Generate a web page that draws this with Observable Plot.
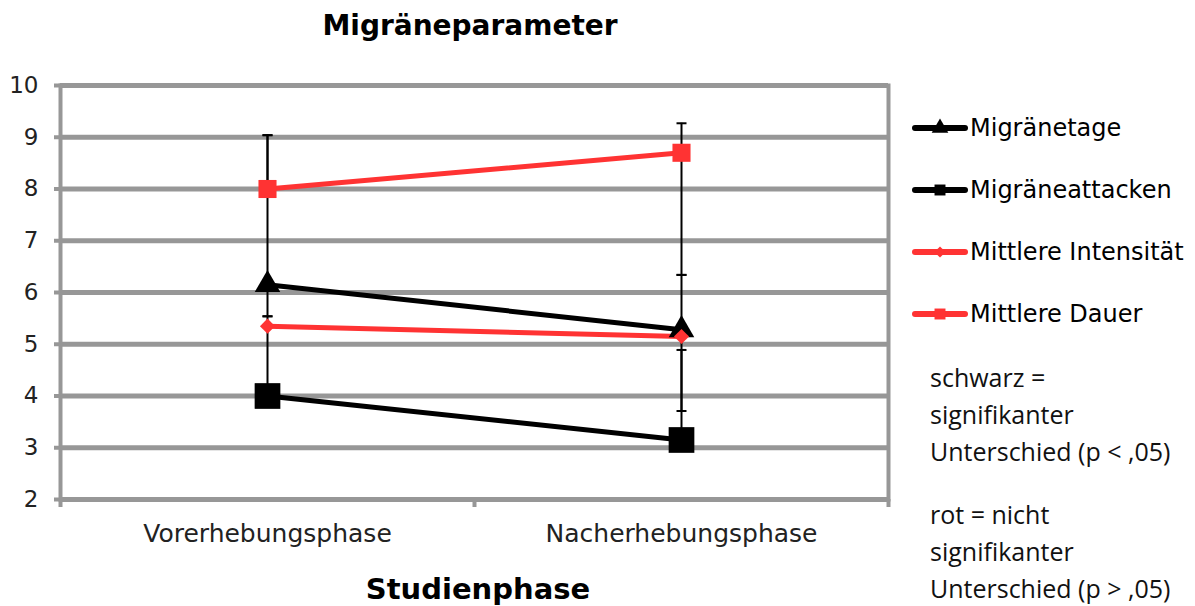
<!DOCTYPE html>
<html>
<head>
<meta charset="utf-8">
<script src="https://cdn.jsdelivr.net/npm/d3@7"></script>
<script src="https://cdn.jsdelivr.net/npm/@observablehq/plot@0.6"></script>
<style>
  html, body { margin: 0; padding: 0; background: #fff; }
  #wrap { position: relative; width: 1195px; height: 606px; overflow: hidden; font-family: "DejaVu Sans", sans-serif; color: #000; }
  #chart { position: absolute; left: 0; top: 0; }
  .title { position: absolute; top: 9px; left: 270px; width: 400px; text-align: center; font-weight: bold; font-size: 28px; }
  .xlabel { position: absolute; top: 572px; left: 278px; width: 400px; text-align: center; font-weight: bold; font-size: 29px; }
  .legend { position: absolute; left: 912px; top: 97px; }
  .legend .row { display: flex; align-items: center; height: 62px; font-size: 24px; }
  .legend svg { display: block; margin-right: 2px; }
  .notes { position: absolute; left: 930px; top: 359px; font-family: "Open Sans", sans-serif; font-size: 25px; line-height: 37px; color: #111; }
  .notes p { margin: 0 0 26px 0; }
</style>
</head>
<body>
<div id="wrap">
  <div id="chart"></div>
  <div class="title">Migräneparameter</div>
  <div class="xlabel">Studienphase</div>
  <div class="legend" id="legend"></div>
  <div class="notes">
    <p>schwarz =<br>signifikanter<br>Unterschied (p &lt; ,05)</p>
    <p>rot = nicht<br>signifikanter<br>Unterschied (p &gt; ,05)</p>
  </div>
</div>
<script>
// ---- data ----
const phases = ["Vorerhebungsphase", "Nacherhebungsphase"];
const seriesNames = ["Migränetage", "Migräneattacken", "Mittlere Intensität", "Mittlere Dauer"];
const migraenetage = [6.15, 5.28];
const migraeneattacken = [4.0, 3.15];
const mittlereIntensitaet = [5.35, 5.15];
const mittlereDauer = [8.0, 8.7];
// error bar extents (upward / downward)
const errUpMigraenetage = [2.89, 1.06];
const errDownMigraenetage = [0.61, 1.57];
const errUpMigraeneattacken = [1.54, 1.74];
const errDownMigraeneattacken = [0, 0];
const errUpIntensitaet = [0, 0];
const errDownIntensitaet = [0, 0];
const errUpDauer = [1.04, 0.57];
const errDownDauer = [0, 2.36];
const yTicks = [2, 3, 4, 5, 6, 7, 8, 9, 10];

// ---- styles per series ----
const styles = {
  "Migränetage": {color: "#000000", width: 5, symbol: "triangle", r: 9.5},
  "Migräneattacken": {color: "#000000", width: 5, symbol: "square", r: 14.5},
  "Mittlere Intensität": {color: "#ff3333", width: 5, symbol: "diamond2", r: 6.8},
  "Mittlere Dauer": {color: "#ff3333", width: 5, symbol: "square", r: 10.2}
};

const values = [migraenetage, migraeneattacken, mittlereIntensitaet, mittlereDauer];
const ups = [errUpMigraenetage, errUpMigraeneattacken, errUpIntensitaet, errUpDauer];
const downs = [errDownMigraenetage, errDownMigraeneattacken, errDownIntensitaet, errDownDauer];

const rows = [];
seriesNames.forEach((s, si) => {
  phases.forEach((p, pi) => {
    const v = values[si][pi];
    rows.push({series: s, phase: pi, value: v, hi: v + ups[si][pi], lo: v - downs[si][pi], up: ups[si][pi], down: downs[si][pi]});
  });
});

const caps = [];
rows.forEach(d => {
  if (d.up > 0) caps.push({phase: d.phase, y: d.hi});
  if (d.down > 0) caps.push({phase: d.phase, y: d.lo});
});

const capSymbol = {
  draw(context, size) {
    const w = Math.sqrt(size);
    context.moveTo(-w / 2, 0);
    context.lineTo(w / 2, 0);
  }
};

const grid = "#979797";
const marks = [
  Plot.ruleY(yTicks, {stroke: grid, strokeWidth: 5}),
  Plot.frame({stroke: grid, strokeWidth: 4}),
  Plot.axisY({ticks: yTicks, tickSize: 6, tickPadding: 16, stroke: grid, strokeWidth: 4, fontSize: 23, label: null, color: "#222"}),
  Plot.axisX({ticks: [-0.5, 0.5, 1.5], tickFormat: () => "", tickSize: 8, stroke: grid, strokeWidth: 4, label: null}),
  Plot.axisX({ticks: [0, 1], tickFormat: i => phases[i], tickSize: 0, tickPadding: 25, fontSize: 25, label: null, color: "#222"}),
  Plot.ruleX(rows.filter(d => d.up > 0 || d.down > 0), {x: "phase", y1: "lo", y2: "hi", stroke: "#000", strokeWidth: 2}),
  Plot.dot(caps, {x: "phase", y: "y", symbol: capSymbol, r: 5.64, stroke: "#000", strokeWidth: 2, fill: "none"})
];
seriesNames.forEach(s => {
  const st = styles[s];
  const data = rows.filter(d => d.series === s);
  marks.push(Plot.line(data, {x: "phase", y: "value", stroke: st.color, strokeWidth: st.width}));
});
seriesNames.forEach(s => {
  const st = styles[s];
  const data = rows.filter(d => d.series === s);
  marks.push(Plot.dot(data, {x: "phase", y: "value", symbol: st.symbol, r: st.r, fill: st.color, stroke: "none"}));
});

const chart = Plot.plot({
  width: 1195,
  height: 606,
  marginLeft: 60,
  marginRight: 307,
  marginTop: 85,
  marginBottom: 107,
  style: {fontFamily: "DejaVu Sans, sans-serif", background: "#fff", overflow: "visible"},
  x: {type: "linear", domain: [-0.5, 1.5], axis: null},
  y: {domain: [2, 10], axis: null},
  marks
});
document.getElementById("chart").appendChild(chart);

// ---- legend ----
const legend = d3.select("#legend");
seriesNames.forEach(s => {
  const st = styles[s];
  const row = legend.append("div").attr("class", "row");
  const svg = row.append("svg").attr("width", 56).attr("height", 20);
  svg.append("line").attr("x1", 3).attr("x2", 53).attr("y1", 10).attr("y2", 10)
    .attr("stroke", st.color).attr("stroke-width", 6).attr("stroke-linecap", "round");
  const symMap = {triangle: d3.symbolTriangle, square: d3.symbolSquare, diamond2: d3.symbolDiamond2};
  const size = st.symbol === "diamond2" ? 80 : 120;
  svg.append("path").attr("transform", "translate(28,10)")
    .attr("d", d3.symbol(symMap[st.symbol], size)()).attr("fill", st.color);
  row.append("span").text(s);
});
</script>
</body>
</html>
